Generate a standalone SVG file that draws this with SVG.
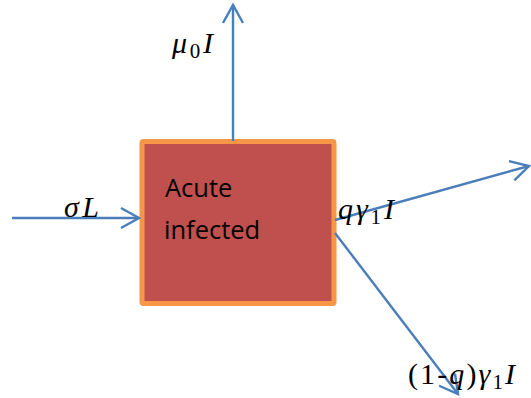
<svg xmlns="http://www.w3.org/2000/svg" width="531" height="398" viewBox="0 0 531 398">
<defs>
<style>
.conn{stroke:#4A7EBB;stroke-width:2.4;fill:none}
.node{fill:#C0504D;stroke:#F79646;stroke-width:5}
.lbl{font-family:"Open Sans",sans-serif;font-size:25.5px;fill:#000}
.math{font-family:"Liberation Serif",serif;font-size:30px;fill:#000;font-style:italic}
.up{font-style:normal}
.sub{font-style:normal;font-size:21px}
</style>
<marker id="arr" markerUnits="userSpaceOnUse" markerWidth="24" markerHeight="24" viewBox="-20 -12 22 24" refX="0" refY="0" orient="auto" overflow="visible">
<path d="M-18,-10 L0,0 L-18,10" fill="none" stroke="#4A7EBB" stroke-width="2.4"/>
</marker>
</defs>
<rect width="531" height="398" fill="#fff"/>
<g id="acute">
<rect class="node" x="142" y="141.5" width="192" height="162" rx="1.5"/>
<text class="lbl" x="165" y="197">Acute</text>
<text class="lbl" x="164" y="239">infected</text>
</g>
<g id="connectors">
<line class="conn" x1="233" y1="141" x2="233" y2="5" marker-end="url(#arr)"/>
<line class="conn" x1="12" y1="218" x2="139" y2="218" marker-end="url(#arr)"/>
<line class="conn" x1="335" y1="220" x2="529" y2="166" marker-end="url(#arr)"/>
<line class="conn" x1="335" y1="233" x2="458" y2="394" marker-end="url(#arr)"/>
</g>
<g id="labels">
<text class="math" x="172" y="53" textLength="41" lengthAdjust="spacing">μ<tspan class="sub" dy="5">0</tspan><tspan dy="-5">I</tspan></text>
<text class="math" x="64" y="217" textLength="35" lengthAdjust="spacing">σL</text>
<text class="math" x="338" y="219" textLength="56" lengthAdjust="spacing">qγ<tspan class="sub" dy="5">1</tspan><tspan dy="-5">I</tspan></text>
<text class="math" x="408" y="384" textLength="107" lengthAdjust="spacing"><tspan class="up">(1-</tspan>q<tspan class="up">)</tspan>γ<tspan class="sub" dy="5">1</tspan><tspan dy="-5">I</tspan></text>
</g>
</svg>
